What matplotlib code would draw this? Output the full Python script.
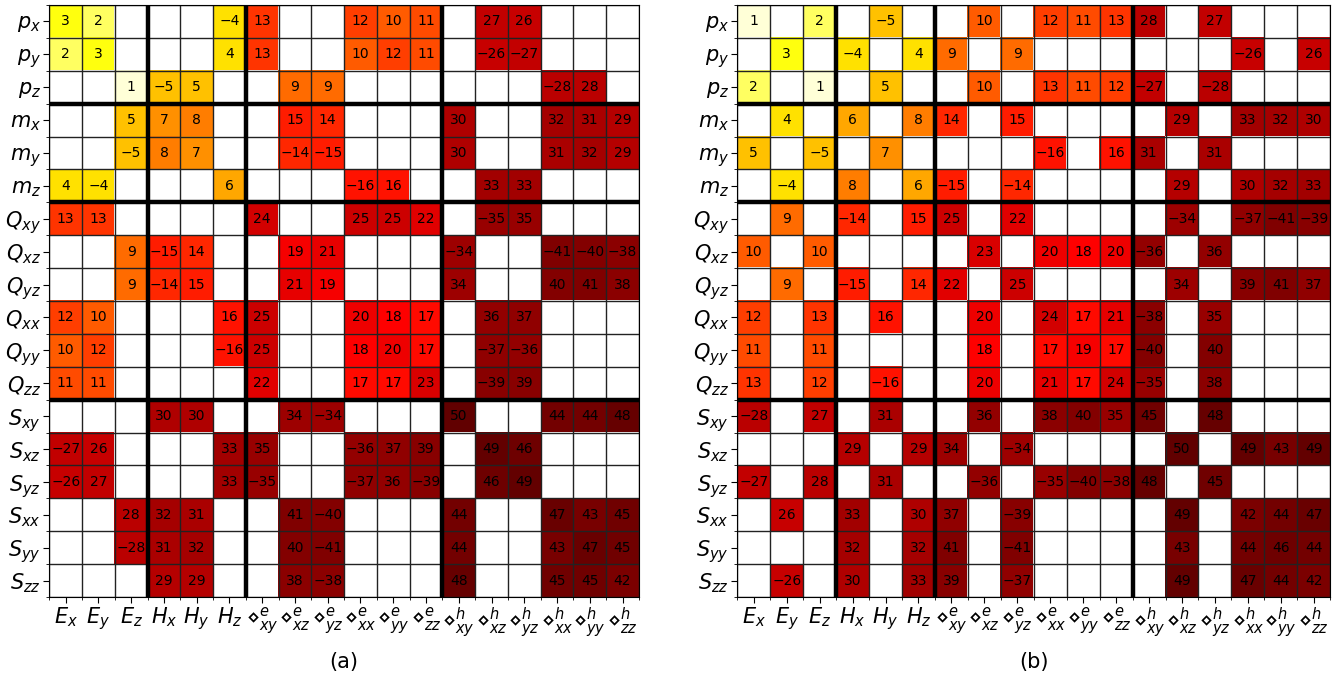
import numpy as np
import matplotlib
matplotlib.use("Agg")
import matplotlib.pyplot as plt
from matplotlib.colors import FuncNorm

# row / column labels
row_labels = [r"$p_x$", r"$p_y$", r"$p_z$", r"$m_x$", r"$m_y$", r"$m_z$",
              r"$Q_{xy}$", r"$Q_{xz}$", r"$Q_{yz}$", r"$Q_{xx}$", r"$Q_{yy}$", r"$Q_{zz}$",
              r"$S_{xy}$", r"$S_{xz}$", r"$S_{yz}$", r"$S_{xx}$", r"$S_{yy}$", r"$S_{zz}$"]
col_labels = [r"$E_x$", r"$E_y$", r"$E_z$", r"$H_x$", r"$H_y$", r"$H_z$",
              r"$\diamond^e_{xy}$", r"$\diamond^e_{xz}$", r"$\diamond^e_{yz}$",
              r"$\diamond^e_{xx}$", r"$\diamond^e_{yy}$", r"$\diamond^e_{zz}$",
              r"$\diamond^h_{xy}$", r"$\diamond^h_{xz}$", r"$\diamond^h_{yz}$",
              r"$\diamond^h_{xx}$", r"$\diamond^h_{yy}$", r"$\diamond^h_{zz}$"]
panel_names = ["(a)", "(b)"]

# 0 = empty cell
vals_a = [
    [3, 2, 0, 0, 0, -4, 13, 0, 0, 12, 10, 11, 0, 27, 26, 0, 0, 0],
    [2, 3, 0, 0, 0, 4, 13, 0, 0, 10, 12, 11, 0, -26, -27, 0, 0, 0],
    [0, 0, 1, -5, 5, 0, 0, 9, 9, 0, 0, 0, 0, 0, 0, -28, 28, 0],
    [0, 0, 5, 7, 8, 0, 0, 15, 14, 0, 0, 0, 30, 0, 0, 32, 31, 29],
    [0, 0, -5, 8, 7, 0, 0, -14, -15, 0, 0, 0, 30, 0, 0, 31, 32, 29],
    [4, -4, 0, 0, 0, 6, 0, 0, 0, -16, 16, 0, 0, 33, 33, 0, 0, 0],
    [13, 13, 0, 0, 0, 0, 24, 0, 0, 25, 25, 22, 0, -35, 35, 0, 0, 0],
    [0, 0, 9, -15, 14, 0, 0, 19, 21, 0, 0, 0, -34, 0, 0, -41, -40, -38],
    [0, 0, 9, -14, 15, 0, 0, 21, 19, 0, 0, 0, 34, 0, 0, 40, 41, 38],
    [12, 10, 0, 0, 0, 16, 25, 0, 0, 20, 18, 17, 0, 36, 37, 0, 0, 0],
    [10, 12, 0, 0, 0, -16, 25, 0, 0, 18, 20, 17, 0, -37, -36, 0, 0, 0],
    [11, 11, 0, 0, 0, 0, 22, 0, 0, 17, 17, 23, 0, -39, 39, 0, 0, 0],
    [0, 0, 0, 30, 30, 0, 0, 34, -34, 0, 0, 0, 50, 0, 0, 44, 44, 48],
    [-27, 26, 0, 0, 0, 33, 35, 0, 0, -36, 37, 39, 0, 49, 46, 0, 0, 0],
    [-26, 27, 0, 0, 0, 33, -35, 0, 0, -37, 36, -39, 0, 46, 49, 0, 0, 0],
    [0, 0, 28, 32, 31, 0, 0, 41, -40, 0, 0, 0, 44, 0, 0, 47, 43, 45],
    [0, 0, -28, 31, 32, 0, 0, 40, -41, 0, 0, 0, 44, 0, 0, 43, 47, 45],
    [0, 0, 0, 29, 29, 0, 0, 38, -38, 0, 0, 0, 48, 0, 0, 45, 45, 42],
]

vals_b = [
    [1, 0, 2, 0, -5, 0, 0, 10, 0, 12, 11, 13, 28, 0, 27, 0, 0, 0],
    [0, 3, 0, -4, 0, 4, 9, 0, 9, 0, 0, 0, 0, 0, 0, -26, 0, 26],
    [2, 0, 1, 0, 5, 0, 0, 10, 0, 13, 11, 12, -27, 0, -28, 0, 0, 0],
    [0, 4, 0, 6, 0, 8, 14, 0, 15, 0, 0, 0, 0, 29, 0, 33, 32, 30],
    [5, 0, -5, 0, 7, 0, 0, 0, 0, -16, 0, 16, 31, 0, 31, 0, 0, 0],
    [0, -4, 0, 8, 0, 6, -15, 0, -14, 0, 0, 0, 0, 29, 0, 30, 32, 33],
    [0, 9, 0, -14, 0, 15, 25, 0, 22, 0, 0, 0, 0, -34, 0, -37, -41, -39],
    [10, 0, 10, 0, 0, 0, 0, 23, 0, 20, 18, 20, -36, 0, 36, 0, 0, 0],
    [0, 9, 0, -15, 0, 14, 22, 0, 25, 0, 0, 0, 0, 34, 0, 39, 41, 37],
    [12, 0, 13, 0, 16, 0, 0, 20, 0, 24, 17, 21, -38, 0, 35, 0, 0, 0],
    [11, 0, 11, 0, 0, 0, 0, 18, 0, 17, 19, 17, -40, 0, 40, 0, 0, 0],
    [13, 0, 12, 0, -16, 0, 0, 20, 0, 21, 17, 24, -35, 0, 38, 0, 0, 0],
    [-28, 0, 27, 0, 31, 0, 0, 36, 0, 38, 40, 35, 45, 0, 48, 0, 0, 0],
    [0, 0, 0, 29, 0, 29, 34, 0, -34, 0, 0, 0, 0, 50, 0, 49, 43, 49],
    [-27, 0, 28, 0, 31, 0, 0, -36, 0, -35, -40, -38, 48, 0, 45, 0, 0, 0],
    [0, 26, 0, 33, 0, 30, 37, 0, -39, 0, 0, 0, 0, 49, 0, 42, 44, 47],
    [0, 0, 0, 32, 0, 32, 41, 0, -41, 0, 0, 0, 0, 43, 0, 44, 46, 44],
    [0, -26, 0, 30, 0, 33, 39, 0, -37, 0, 0, 0, 0, 49, 0, 47, 44, 42],
]

block_edges = [3, 6, 12]

cmap = matplotlib.colormaps["hot_r"].with_extremes(bad="white")
norm = FuncNorm((lambda x: np.log(x + 0.5), lambda y: np.exp(y) - 0.5),
                vmin=0.77, vmax=87)

fig = plt.figure(figsize=(13.4, 6.84), dpi=100)
ax_a = fig.add_axes([0.0368, 0.1272, 0.4400, 0.8655])
ax_b = fig.add_axes([0.5502, 0.1272, 0.4425, 0.8655])

for ax, vals, name in zip([ax_a, ax_b], [vals_a, vals_b], panel_names):
    m = np.array(vals)
    n_r, n_c = m.shape
    ax.imshow(np.ma.masked_equal(np.abs(m), 0), cmap=cmap, norm=norm,
              aspect="auto", interpolation="nearest")

    for i in range(n_r):
        for j in range(n_c):
            if m[i, j] != 0:
                ax.text(j, i, str(m[i, j]).replace("-", "\u2212"),
                        ha="center", va="center", fontsize=10, color="black")

    # thin cell grid
    ax.set_xticks(np.arange(-0.5, n_c, 1), minor=True)
    ax.set_yticks(np.arange(-0.5, n_r, 1), minor=True)
    ax.grid(which="minor", color="#222222", lw=1.0)
    ax.tick_params(which="minor", length=2.5)
    # thick block separators
    for e in block_edges:
        ax.axhline(e - 0.5, color="black", lw=3.2)
        ax.axvline(e - 0.5, color="black", lw=3.2)

    ax.set_xticks(np.arange(n_c))
    ax.set_xticklabels(col_labels, fontsize=15)
    ax.set_yticks(np.arange(n_r))
    ax.set_yticklabels(row_labels, fontsize=15)
    ax.tick_params(which="major", length=4, pad=2)
    ax.set_xlim(-0.5, n_c - 0.5)
    ax.set_ylim(n_r - 0.5, -0.5)

    pos = ax.get_position()
    fig.text((pos.x0 + pos.x1) / 2, 0.032, name, ha="center", va="center", fontsize=15)

fig.savefig("out.png", dpi=100)
